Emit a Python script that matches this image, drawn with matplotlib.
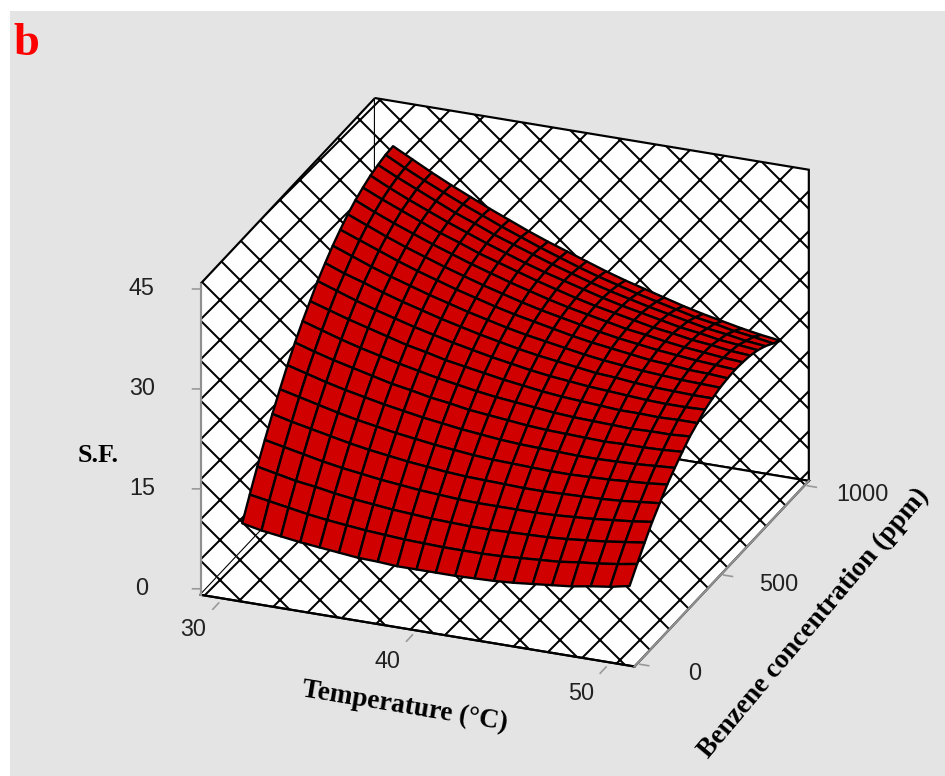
import matplotlib
matplotlib.use("Agg")
import matplotlib.pyplot as plt
from matplotlib.patches import Rectangle
from mpl_toolkits.mplot3d import proj3d
import numpy as np

# %%
temperature = [30, 31, 32, 33, 34, 35, 36, 37, 38, 39, 40,
               41, 42, 43, 44, 45, 46, 47, 48, 49, 50]
benzene = [100, 145, 190, 235, 280, 325, 370, 415, 460, 505, 550,
           595, 640, 685, 730, 775, 820, 865, 910, 955, 1000]
# S.F., one row per benzene level (cols = temperature)
sf = [
    [7.3, 6.7, 6.3, 5.9, 5.6, 5.3, 5.0, 4.9, 4.7, 4.7, 4.7, 4.7, 4.8, 4.9, 5.1, 5.4, 5.7, 6.0, 6.5, 6.9, 7.5],
    [10.4, 9.9, 9.4, 8.9, 8.5, 8.2, 7.9, 7.7, 7.5, 7.4, 7.3, 7.3, 7.3, 7.4, 7.6, 7.8, 8.0, 8.4, 8.7, 9.1, 9.6],
    [13.4, 12.8, 12.2, 11.8, 11.3, 10.9, 10.6, 10.3, 10.1, 9.9, 9.8, 9.7, 9.7, 9.8, 9.9, 10.0, 10.2, 10.5, 10.8, 11.2, 11.6],
    [16.2, 15.6, 15.0, 14.4, 13.9, 13.5, 13.1, 12.8, 12.5, 12.3, 12.1, 12.0, 12.0, 12.0, 12.0, 12.1, 12.3, 12.5, 12.8, 13.1, 13.5],
    [18.9, 18.2, 17.6, 17.0, 16.4, 15.9, 15.5, 15.1, 14.8, 14.5, 14.3, 14.2, 14.1, 14.0, 14.0, 14.1, 14.2, 14.3, 14.5, 14.8, 15.1],
    [21.4, 20.7, 20.0, 19.3, 18.7, 18.2, 17.7, 17.3, 16.9, 16.6, 16.3, 16.1, 16.0, 15.9, 15.8, 15.8, 15.9, 16.0, 16.2, 16.4, 16.7],
    [23.8, 23.0, 22.2, 21.5, 20.9, 20.3, 19.8, 19.3, 18.9, 18.5, 18.2, 17.9, 17.7, 17.6, 17.5, 17.4, 17.4, 17.5, 17.6, 17.8, 18.0],
    [26.0, 25.1, 24.3, 23.6, 22.9, 22.2, 21.7, 21.1, 20.7, 20.2, 19.9, 19.6, 19.3, 19.1, 19.0, 18.9, 18.8, 18.9, 18.9, 19.0, 19.2],
    [28.0, 27.1, 26.2, 25.4, 24.7, 24.0, 23.4, 22.8, 22.3, 21.8, 21.4, 21.1, 20.8, 20.5, 20.3, 20.2, 20.1, 20.0, 20.1, 20.1, 20.3],
    [29.8, 28.9, 28.0, 27.2, 26.4, 25.6, 25.0, 24.3, 23.8, 23.3, 22.8, 22.4, 22.0, 21.7, 21.5, 21.3, 21.1, 21.1, 21.0, 21.1, 21.1],
    [31.6, 30.6, 29.6, 28.7, 27.9, 27.1, 26.4, 25.7, 25.1, 24.5, 24.0, 23.5, 23.1, 22.8, 22.5, 22.3, 22.1, 21.9, 21.8, 21.8, 21.9],
    [33.1, 32.0, 31.1, 30.1, 29.2, 28.4, 27.6, 26.9, 26.2, 25.6, 25.0, 24.5, 24.1, 23.7, 23.3, 23.1, 22.8, 22.6, 22.5, 22.4, 22.4],
    [34.5, 33.4, 32.3, 31.3, 30.4, 29.5, 28.7, 27.9, 27.2, 26.5, 25.9, 25.4, 24.9, 24.4, 24.0, 23.7, 23.4, 23.2, 23.0, 22.9, 22.8],
    [35.7, 34.6, 33.5, 32.4, 31.4, 30.5, 29.6, 28.8, 28.0, 27.3, 26.7, 26.1, 25.5, 25.0, 24.6, 24.2, 23.8, 23.6, 23.3, 23.2, 23.0],
    [36.8, 35.6, 34.4, 33.3, 32.3, 31.3, 30.4, 29.5, 28.7, 27.9, 27.2, 26.6, 26.0, 25.4, 24.9, 24.5, 24.1, 23.8, 23.5, 23.3, 23.1],
    [37.7, 36.4, 35.2, 34.1, 33.0, 32.0, 31.0, 30.1, 29.2, 28.4, 27.6, 26.9, 26.3, 25.7, 25.1, 24.7, 24.2, 23.8, 23.5, 23.2, 23.0],
    [38.4, 37.1, 35.9, 34.7, 33.5, 32.5, 31.4, 30.5, 29.6, 28.7, 27.9, 27.1, 26.4, 25.8, 25.2, 24.6, 24.2, 23.7, 23.4, 23.0, 22.8],
    [39.0, 37.6, 36.3, 35.1, 33.9, 32.8, 31.7, 30.7, 29.7, 28.8, 28.0, 27.2, 26.4, 25.7, 25.1, 24.5, 23.9, 23.5, 23.0, 22.7, 22.4],
    [39.4, 38.0, 36.7, 35.4, 34.1, 33.0, 31.8, 30.8, 29.8, 28.8, 27.9, 27.0, 26.2, 25.5, 24.8, 24.2, 23.6, 23.0, 22.6, 22.1, 21.8],
    [39.7, 38.2, 36.8, 35.5, 34.2, 33.0, 31.8, 30.7, 29.6, 28.6, 27.6, 26.7, 25.9, 25.1, 24.4, 23.7, 23.0, 22.5, 21.9, 21.5, 21.0],
    [39.8, 38.3, 36.8, 35.4, 34.1, 32.8, 31.6, 30.4, 29.3, 28.3, 27.3, 26.3, 25.4, 24.6, 23.8, 23.0, 22.3, 21.7, 21.1, 20.6, 20.2],
]

temp_ticks = [30, 40, 50]
benz_ticks = [0, 500, 1000]
sf_ticks = [0, 15, 30, 45]

TLIM = (28.85, 51.25)
BLIM = (-15, 1025)
ZLIM = (-0.9, 45.8)

# %%
DPI = 120  # hatch 'x' cell ends up ~40 px, like the original
W, H = 945, 776
plt.rcParams["hatch.linewidth"] = 1.2
plt.rcParams["hatch.color"] = "black"

fig = plt.figure(figsize=(W / DPI, H / DPI), dpi=DPI, facecolor="white")
fig.add_artist(Rectangle((10 / W, 0), 1, 1 - 11 / H, transform=fig.transFigure,
                         facecolor="#e4e4e4", edgecolor="none", zorder=-5))

side = 720
cx, cy = 495, 392
ax = fig.add_axes([(cx - side / 2) / W, 1 - (cy + side / 2) / H, side / W, side / H],
                  projection="3d")
ax.set_facecolor((0, 0, 0, 0))
ax.set_proj_type("ortho")
ax.view_init(elev=24.8, azim=-68.5)
ax.set_box_aspect((1, 1.02, 0.735), zoom=1.01)

TT, BB = np.meshgrid(temperature, benzene)
ax.plot_surface(TT, BB, np.array(sf), color="#d00000", edgecolor="black",
                linewidth=1.4, shade=False, rstride=1, cstride=1)

ax.set_xlim(*TLIM)
ax.set_ylim(*BLIM)
ax.set_zlim(*ZLIM)
# ticks are drawn by hand below, so the box axes carry none
ax.set_xticks([])
ax.set_yticks([])
ax.set_zticks([])
ax.grid(False)
ax.zaxis.set_ticks_position("lower")

for axis in (ax.xaxis, ax.yaxis, ax.zaxis):
    axis.set_pane_color((1, 1, 1, 1))
    axis.pane.set_edgecolor("black")
    axis.pane.set_linewidth(1.3)
    axis.pane.set_hatch("x")
    axis.line.set_linewidth(1.3)
ax.xaxis.line.set_color("black")
ax.yaxis.line.set_color("#909090")
ax.zaxis.line.set_color("#909090")

# short grey tick marks, just outside the box
tick_kw = dict(color="#999999", lw=1.0)
for t in temp_ticks:
    ax.plot([t, t], [BLIM[0] - 25, BLIM[0] - 60], [ZLIM[0], ZLIM[0]], **tick_kw)
for b in benz_ticks:
    ax.plot([TLIM[1] + 0.15, TLIM[1] + 0.6], [b, b], [ZLIM[0], ZLIM[0]], **tick_kw)
for z in sf_ticks:
    ax.plot([TLIM[0], TLIM[0] - 0.36], [BLIM[0], BLIM[0] - 6.4], [z, z], **tick_kw)

# tick labels as plain figure texts at the projected spots
fig.canvas.draw()
M = ax.get_proj()
tick_font = dict(fontsize=14, family="Liberation Sans", color="#222222",
                 ha="center", va="center")

def label3d(x, y, z, s):
    xs, ys, _ = proj3d.proj_transform(x, y, z, M)
    fx, fy = fig.transFigure.inverted().transform(ax.transData.transform((xs, ys)))
    fig.text(fx, fy, s, **tick_font)

for t in temp_ticks:
    label3d(t, BLIM[0] - 175, ZLIM[0], str(t))
for b in benz_ticks:
    label3d(TLIM[1] + 3.0, b, ZLIM[0], str(b))
for z in sf_ticks:
    label3d(TLIM[0] - 2.63, BLIM[0] - 47, z, str(z))

serif = ["Liberation Serif", "DejaVu Serif"]
def px(x, y):
    return x / W, 1 - y / H

fig.text(*px(26, 44), "b", color="red", fontsize=28, fontweight="bold",
         family=serif, ha="center", va="center")
fig.text(*px(98, 455), "S.F.", fontsize=15.6, fontweight="bold", family=serif,
         ha="center", va="center")
fig.text(*px(405, 707), "Temperature (\u00b0C)", fontsize=16.4, fontweight="bold",
         family=serif, ha="center", va="center", rotation=-9.4, rotation_mode="anchor")
fig.text(*px(814, 623), "Benzene concentration (ppm)", fontsize=16.4, fontweight="bold",
         family=serif, ha="center", va="center", rotation=50, rotation_mode="anchor")

fig.savefig("out.png", dpi=DPI, facecolor=fig.get_facecolor())
